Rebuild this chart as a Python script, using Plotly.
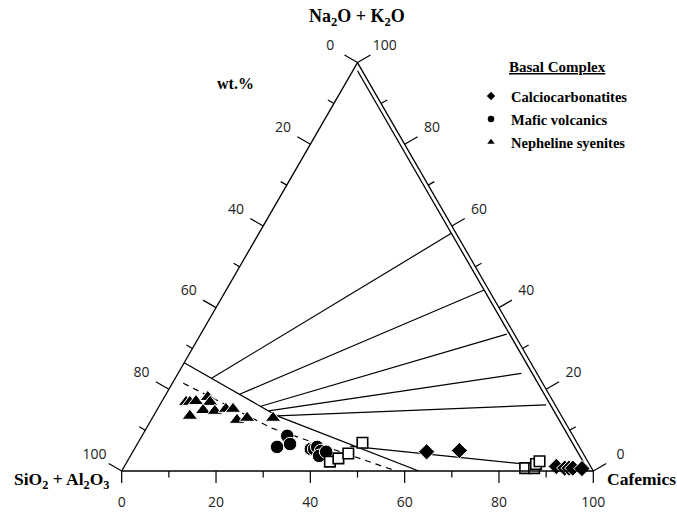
import math
import plotly.graph_objects as go

# ---- ternary components (wt.%): a = Na2O+K2O, b = SiO2+Al2O3, c = Cafemics ----
calcio_a = [4.7, 5.0, 1.1, 0.7, 0.7, 0.7, 0.6]
calcio_b = [33.0, 25.9, 7.3, 5.7, 4.8, 4.0, 2.1]
calcio_c = [62.3, 69.1, 91.6, 93.6, 94.5, 95.3, 97.3]

mafic_a = [8.6, 5.9, 6.6, 5.4, 5.4, 5.9, 4.9, 3.7, 4.7]
mafic_b = [60.6, 64.1, 61.0, 57.2, 56.5, 55.6, 55.3, 56.3, 54.3]
mafic_c = [30.8, 30.0, 32.4, 37.4, 38.1, 38.5, 39.8, 40.0, 41.0]

nephe_a = [16.9, 16.9, 17.1, 18.1, 16.9, 13.5, 14.9, 14.7, 15.2, 15.2, 12.5, 13.0, 13.0]
nephe_b = [77.9, 77.1, 75.7, 72.7, 72.8, 78.8, 75.3, 72.9, 70.3, 68.8, 69.3, 66.9, 61.4]
nephe_c = [5.2, 6.0, 7.2, 9.2, 10.3, 7.7, 9.8, 12.4, 14.5, 16.0, 18.2, 20.1, 25.6]

other_a = [2.3, 3.1, 4.3, 6.9, 0.7, 0.7, 1.7, 2.4]
other_b = [54.7, 52.5, 49.8, 45.5, 14.1, 12.2, 11.3, 10.2]
other_c = [43.0, 44.4, 45.9, 47.6, 85.2, 87.1, 87.0, 87.4]

# field boundaries
solid_a = [26.5, 13.5, 0.0]
solid_b = [73.5, 60.3, 37.0]
solid_c = [0.0, 26.2, 63.0]

dash_a = [21.5, 10.5, 0.0]
dash_b = [76.2, 62.9, 41.8]
dash_c = [2.3, 26.6, 58.2]

fan_start_a = [22.7, 18.8, 15.8, 14.7, 13.5]
fan_start_b = [69.6, 65.6, 62.8, 61.5, 60.3]
fan_start_c = [7.7, 15.6, 21.4, 23.8, 26.2]
fan_end_a = [58.2, 44.3, 33.5, 23.9, 16.2]
fan_end_b = [1.0, 1.0, 1.6, 3.3, 1.9]
fan_end_c = [40.8, 54.7, 64.9, 72.8, 81.9]

tie_a = [6.1, 1.6]
tie_b = [48.5, 13.1]
tie_c = [45.4, 85.3]

inner_a = [98.0, 2.0]
inner_b = [1.0, 1.0]
inner_c = [1.0, 97.0]

major_vals = [0, 20, 40, 60, 80, 100]
major_text = ["0", "20", "40", "60", "80", "100"]
minor_vals = [10, 30, 50, 70, 90]

# ---- geometry (px; the page body margin is removed so the figure starts at 0,0) ----
W, H = 677, 514
TRI_X0, TRI_X1 = 121.7, 593.3
TRI_YB = 471.0
PPU = (TRI_X1 - TRI_X0) / 100.0          # px per unit (same on both overlay axes)
R3 = math.sqrt(3) / 2
TRI_YT = TRI_YB - 100 * R3 * PPU

def px(x):
    return x / W

def py(y):
    return 1 - y / H

# overlay cartesian axes aligned with the triangle (base from X=0 to X=100, apex at Y=86.6)
x_range = [(0 - TRI_X0) / PPU, (W - TRI_X0) / PPU]
y_range = [(TRI_YB - H) / PPU, TRI_YB / PPU]

SERIF = "Liberation Serif"
SANS = "Open Sans"

fig = go.Figure()

def add_line(a, b, c, dash="solid", width=1.2):
    fig.add_trace(go.Scatterternary(a=a, b=b, c=c, mode="lines",
                                    line=dict(color="black", width=width, dash=dash),
                                    showlegend=False, hoverinfo="skip"))

add_line(inner_a, inner_b, inner_c, width=1.3)
add_line(solid_a, solid_b, solid_c)
add_line(dash_a, dash_b, dash_c, dash="6px,5px")
for i in range(len(fan_start_a)):
    add_line([fan_start_a[i], fan_end_a[i]], [fan_start_b[i], fan_end_b[i]],
             [fan_start_c[i], fan_end_c[i]])
add_line(tie_a, tie_b, tie_c)

# ---- samples ----
def add_pts(a, b, c, symbol, size, name, fill="black", lc="white", lw=1.0):
    fig.add_trace(go.Scatterternary(a=a, b=b, c=c, mode="markers", name=name,
                                    marker=dict(symbol=symbol, size=size, color=fill,
                                                line=dict(color=lc, width=lw)),
                                    showlegend=False, cliponaxis=False))

add_pts(nephe_a, nephe_b, nephe_c, "triangle-up", 13.5, "Nepheline syenites")
add_pts(mafic_a, mafic_b, mafic_c, "circle", 13.5, "Mafic volcanics")
add_pts(other_a, other_b, other_c, "square", 10.5, "Other samples", fill="white", lc="black", lw=1.6)
add_pts(calcio_a, calcio_b, calcio_c, "diamond", 12.5, "Calciocarbonatites")

# ---- tick marks & labels on an overlay aligned with the triangle ----
def edge(side, v):
    if side == "bottom":      # Cafemics, 0 at left -> 100 at right
        return (v, 0.0), (0.0, -1.0)
    if side == "left":        # SiO2+Al2O3, 0 at apex -> 100 at bottom-left
        t = 100 - v
        return (t / 2, t * R3), (-R3, 0.5)
    t = v                     # right: Na2O+K2O, 0 at bottom-right -> 100 at apex
    return (100 - t / 2, t * R3), (R3, 0.5)

TICK_LEN = {"bottom": (12.0, 6.5), "left": (15.0, 7.0), "right": (15.0, 7.0)}
LABEL_DIST = {"bottom": 32.0, "left": 31.5, "right": 31.5}

for side in ["bottom", "left", "right"]:
    xs, ys = [], []
    for vals, L in [(major_vals, TICK_LEN[side][0]), (minor_vals, TICK_LEN[side][1])]:
        for v in vals:
            (x0, y0), (dx, dy) = edge(side, v)
            xs += [x0, x0 + dx * L / PPU, None]
            ys += [y0, y0 + dy * L / PPU, None]
    fig.add_trace(go.Scatter(x=xs, y=ys, mode="lines", line=dict(color="black", width=1.2),
                             showlegend=False, hoverinfo="skip"))
    lx, ly = [], []
    for v in major_vals:
        (x0, y0), (dx, dy) = edge(side, v)
        lx.append(x0 + dx * LABEL_DIST[side] / PPU)
        ly.append(y0 + dy * LABEL_DIST[side] / PPU)
    fig.add_trace(go.Scatter(x=lx, y=ly, mode="text", text=major_text,
                             textposition="middle center", showlegend=False, hoverinfo="skip",
                             textfont=dict(family=SANS, size=14, color="#222")))

# legend-only entries (small symbols as in the key)
for k, (sym, nm) in enumerate([("diamond", "Calciocarbonatites"), ("circle", "Mafic volcanics"),
                               ("triangle-up", "Nepheline syenites")]):
    fig.add_trace(go.Scatter(x=[None], y=[None], mode="markers", name=nm,
                             legendgroup="g%d" % k,
                             marker=dict(symbol=sym, size=6.5, color="black")))

axis_common = dict(ticks="", showticklabels=False, showline=True, linecolor="black",
                   linewidth=1.3, showgrid=False, title=dict(text=""))

fig.update_layout(
    width=W, height=H,
    margin=dict(l=0, r=0, t=0, b=0),
    paper_bgcolor="white",
    plot_bgcolor="rgba(0,0,0,0)",
    xaxis=dict(domain=[0, 1], range=x_range, visible=False, fixedrange=True),
    yaxis=dict(domain=[0, 1], range=y_range, visible=False, fixedrange=True),
    ternary=dict(
        sum=100,
        domain=dict(x=[px(TRI_X0), px(TRI_X1)], y=[py(TRI_YB), py(TRI_YT)]),
        bgcolor="rgba(0,0,0,0)",
        aaxis=axis_common, baxis=axis_common, caxis=axis_common,
    ),
    legend=dict(
        font=dict(family=SERIF, size=14.5, color="black", weight="bold"),
        x=px(471), y=py(80), xanchor="left", yanchor="top",
        bgcolor="rgba(0,0,0,0)", tracegroupgap=1.2,
    ),
    annotations=[
        dict(text="<b>Na<sub>2</sub>O + K<sub>2</sub>O</b>", x=px(357), y=py(18),
             font=dict(family=SERIF, size=18, color="black")),
        dict(text="<b>wt.%</b>", x=px(235), y=py(84),
             font=dict(family=SERIF, size=16, color="black")),
        dict(text="<b>SiO<sub>2</sub> + Al<sub>2</sub>O<sub>3</sub></b>", x=px(61.5), y=py(480),
             font=dict(family=SERIF, size=17.5, color="black")),
        dict(text="<b>Cafemics</b>", x=px(641), y=py(479),
             font=dict(family=SERIF, size=17.5, color="black")),
        dict(text="<b><u>Basal Complex</u></b>", x=px(557), y=py(67),
             font=dict(family=SERIF, size=15, color="black")),
    ],
)
for ann in fig.layout.annotations:
    ann.update(xref="paper", yref="paper", showarrow=False, xanchor="center", yanchor="middle")

fig.write_html("out.html", config={"displayModeBar": False},
               post_script="document.body.style.margin='0px';")
